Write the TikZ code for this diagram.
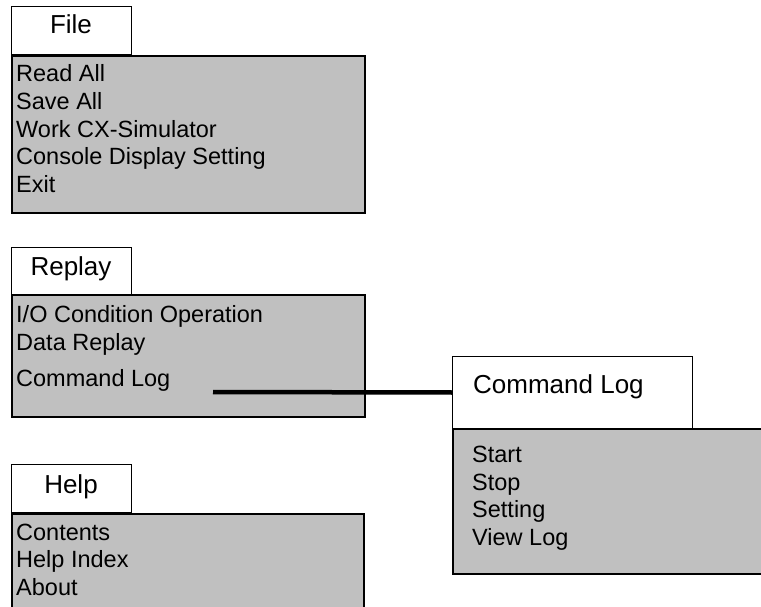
\documentclass[tikz,border=0pt]{standalone}
\usepackage{fontspec}
\setmainfont{Liberation Sans}
\definecolor{menugray}{HTML}{C0C0C0}

\begin{document}
\begin{tikzpicture}[x=1pt,y=-1pt,line join=miter,
    tab/.style={draw,fill=white,line width=1pt,minimum width=120pt,minimum height=48pt,
      anchor=north west,inner sep=0pt},
    menu/.style={draw,fill=menugray,line width=2pt,anchor=north west,inner sep=0pt},
    tablabel/.style={anchor=base,inner sep=0pt,font=\fontsize{26}{30}\selectfont},
    entry/.style={anchor=base west,inner sep=0pt,font=\fontsize{23.5}{28}\selectfont},
    link/.style={line width=4.5pt}]
    \useasboundingbox (0,0) rectangle (761,607);

    % The File menu.
    \node[tab] (filetab) at (11,6) {};
    \node[tablabel] (filelabel) at (71,34) {File};
    \node[menu,minimum width=353pt,minimum height=157pt] (filemenu) at (11,55) {};
    \foreach \t [count=\i] in {Read All,Save All,Work CX-Simulator,Console Display Setting,Exit}
      \node[entry] (file\i) at (16,{54+27.7*\i}) {\t};

    % The Replay menu.
    \node[tab,minimum height=47pt] (replaytab) at (11,247) {};
    \node[tablabel] (replaylabel) at (71,275) {Replay};
    \node[menu,minimum width=353pt,minimum height=122pt] (replaymenu) at (11,294) {};
    \node[entry] (replay1) at (16,322) {I/O Condition Operation};
    \node[entry] (replay2) at (16,350) {Data Replay};
    \node[entry] (replay3) at (16,386) {Command Log};

    % The Help menu.
    \node[tab,minimum height=48pt] (helptab) at (11,464) {};
    \node[tablabel] (helplabel) at (71,493) {Help};
    \node[menu,minimum width=352pt,minimum height=110pt] (helpmenu) at (11,513) {};
    \foreach \t [count=\i] in {Contents,Help Index,About}
      \node[entry] (help\i) at (16,{512.5+27.5*\i}) {\t};

    % The Command Log submenu.
    \node[tab,minimum width=240pt,minimum height=72pt] (logtab) at (452,356) {};
    \node[tablabel,anchor=base west] (loglabel) at (473,393) {Command Log};
    \node[menu,line width=1.5pt,minimum width=320pt,minimum height=145pt] (logmenu) at (452,428) {};
    \foreach \t [count=\i] in {Start,Stop,Setting,View Log}
      \node[entry] (log\i) at (472,{435+27.5*\i}) {\t};

    % Command Log opens the submenu.
    \coordinate (logfrom) at (213,392);
    \draw[link] (logfrom) -- (logtab.west);
\end{tikzpicture}
\end{document}
